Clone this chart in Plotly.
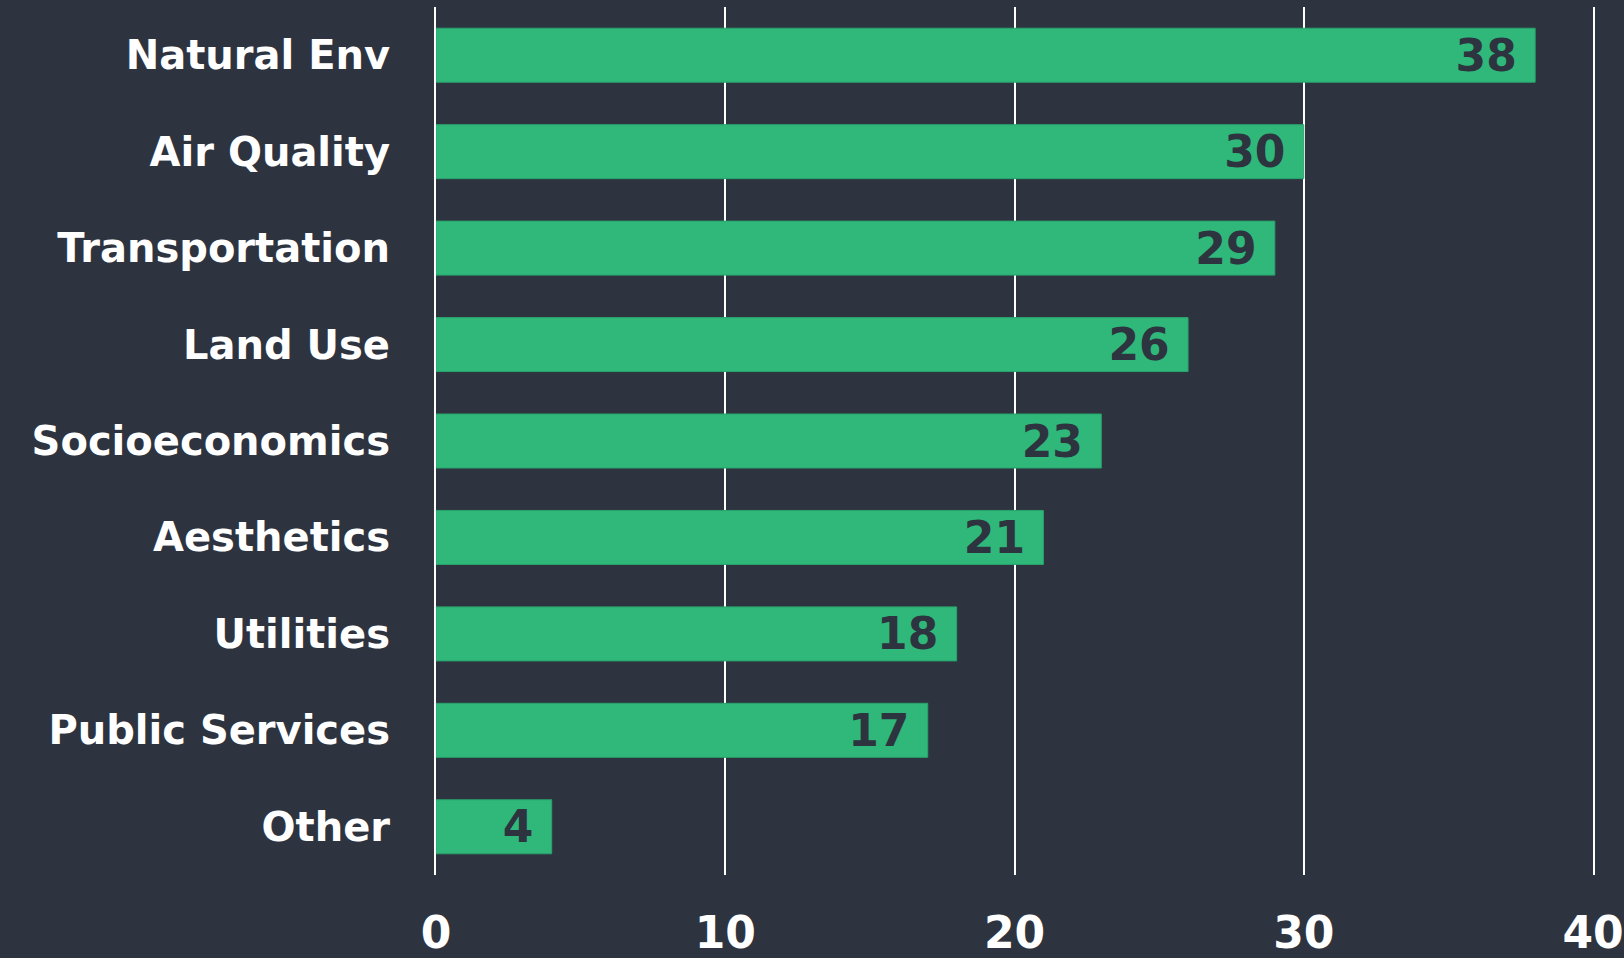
import plotly.graph_objects as go

categories = ["Natural Env", "Air Quality", "Transportation", "Land Use", "Socioeconomics",
              "Aesthetics", "Utilities", "Public Services", "Other"]
values = [38, 30, 29, 26, 23, 21, 18, 17, 4]
x_ticks = [0, 10, 20, 30, 40]

BG = "#2d3440"
GREEN = "#2fb87a"
FONT = "DejaVu Sans"

fig = go.Figure(go.Bar(
    x=values,
    y=categories,
    orientation="h",
    marker=dict(color=GREEN, line=dict(color="#2aa36c", width=1)),
    text=[str(v) + "\u00a0" for v in values],
    textposition="inside",
    insidetextanchor="end",
    textangle=0,
    constraintext="none",
    textfont=dict(family=FONT, size=44, color=BG, weight="bold"),
))

fig.update_layout(
    width=1624, height=958,
    paper_bgcolor=BG, plot_bgcolor=BG,
    margin=dict(l=436, r=31, t=7, b=83, autoexpand=False),
    bargap=0.44,
    showlegend=False,
)
fig.update_xaxes(
    range=[0, 40], tickvals=x_ticks, showgrid=True, gridcolor="#ffffff", gridwidth=2,
    zeroline=False, showline=False, automargin=False,
    tickfont=dict(family=FONT, size=44, color="#ffffff", weight="bold"),
    ticklabelstandoff=28,
    ticklabeloverflow="allow",
)
fig.update_yaxes(
    categoryorder="array", categoryarray=categories, autorange="reversed",
    showgrid=False, zeroline=False, automargin=False,
    showline=True, mirror=True, linecolor="#ffffff", linewidth=2,
    tickfont=dict(family=FONT, size=40, color="#ffffff", weight="bold"),
    ticklabelstandoff=36,
)

fig.write_html(
    "out.html",
    config={"displayModeBar": False},
    post_script="document.body.style.margin='0';document.body.style.overflow='hidden';",
)
